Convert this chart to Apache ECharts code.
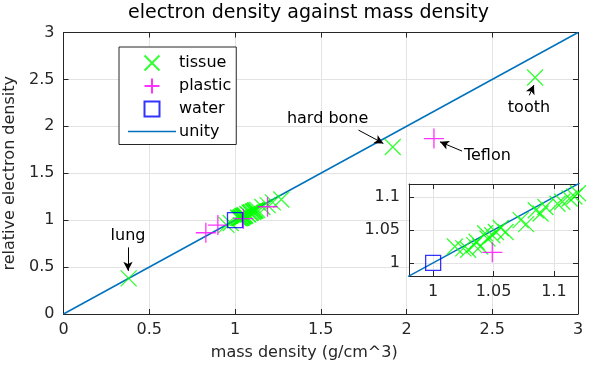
<!DOCTYPE html>
<html>
<head>
<meta charset="utf-8">
<script src="https://cdn.jsdelivr.net/npm/echarts@6/dist/echarts.min.js"></script>
<style>
  html, body { margin: 0; padding: 0; background: #fff; }
  #chart { width: 598px; height: 368px; }
</style>
</head>
<body>
<div id="chart"></div>
<script>
// mass density (g/cm^3) and relative electron density
const tissueDensity = [0.38, 1.92, 2.75, 0.95, 0.975,
  1.018, 1.025, 1.029, 1.034, 1.036, 1.039, 1.043, 1.045, 1.049, 1.052, 1.056, 1.06,
  1.0725, 1.077, 1.085, 1.089, 1.093, 1.103, 1.107, 1.113, 1.117, 1.12,
  1.13, 1.16, 1.19, 1.22, 1.27];
const tissueElectron = [0.38, 1.78, 2.52, 0.95, 0.97,
  1.025, 1.022, 1.020, 1.027, 1.032, 1.025, 1.045, 1.037, 1.042, 1.047, 1.053, 1.047,
  1.065, 1.059, 1.08, 1.075, 1.085, 1.09, 1.093, 1.098, 1.101, 1.106,
  1.11, 1.14, 1.16, 1.19, 1.22];
const plasticDensity = [0.83, 0.90, 1.049, 1.19, 2.16];
const plasticElectron = [0.866, 0.948, 1.016, 1.143, 1.87];
const waterDensity = [1.0];
const waterElectron = [1.0];
const unityLine = [0, 3];

const mainTicks = [0, 0.5, 1, 1.5, 2, 2.5, 3];
const insetTicks = [1, 1.05, 1.1];
const insetRange = [0.98, 1.12];

const notes = [
  { text: 'lung', at: [0.376, 0.83], from: [0.376, 0.71], to: [0.376, 0.46], align: 'center' },
  { text: 'hard bone', at: [1.54, 2.08], from: [1.72, 1.96], to: [1.865, 1.818], align: 'center' },
  { text: 'Teflon', at: [2.335, 1.69], from: [2.324, 1.736], to: [2.195, 1.835], align: 'left' },
  { text: 'tooth', at: [2.714, 2.2], from: [2.716, 2.33], to: [2.743, 2.44], align: 'center' }
];

const pair = (xs, ys) => xs.map((x, i) => [x, ys[i]]);

const CROSS = 'path://M0,0L10,10M10,0L0,10';
const PLUS = 'path://M5,0L5,10M0,5L10,5';
const SQUARE = 'path://M0,0L10,0L10,10L0,10Z';
const BAR = 'path://M0,0L40,0L40,1.4L0,1.4Z';
const INK = '#262626';
const FONT = 'DejaVu Sans';

function axisPair(dir, grid, min, max, ticks, name) {
  const common = {
    type: 'value', gridIndex: grid, min: min, max: max,
    axisLine: { show: true, onZero: false, lineStyle: { color: INK, width: 1 } },
    axisTick: { show: true, inside: true, length: 5, customValues: ticks, lineStyle: { color: INK } }
  };
  const main = Object.assign({}, common, {
    position: dir === 'x' ? 'bottom' : 'left',
    splitLine: { show: true, lineStyle: { color: '#e3e3e3', width: 1 } },
    axisLabel: {
      show: true, customValues: ticks, color: INK, fontFamily: FONT, fontSize: 16, margin: dir === 'x' ? 8 : 9
    }
  });
  if (name) Object.assign(main, name);
  const other = Object.assign({}, common, {
    position: dir === 'x' ? 'top' : 'right',
    splitLine: { show: false },
    axisLabel: { show: false }
  });
  if (grid === 1) { main.z = 6; other.z = 6; }
  return [main, other];
}

const chart = echarts.init(document.getElementById('chart'));

const xAxes = [].concat(
  axisPair('x', 0, 0, 3, mainTicks, {
    name: 'mass density (g/cm^3)', nameLocation: 'middle', nameGap: 31,
    nameTextStyle: { color: INK, fontFamily: FONT, fontSize: 16, padding: [0, 33, 0, 0] }
  }),
  axisPair('x', 1, insetRange[0], insetRange[1], insetTicks)
);
const yAxes = [].concat(
  axisPair('y', 0, 0, 3, mainTicks, {
    name: 'relative electron density', nameLocation: 'middle', nameGap: 41,
    nameTextStyle: { color: INK, fontFamily: FONT, fontSize: 16 }
  }),
  axisPair('y', 1, insetRange[0], insetRange[1], insetTicks)
);

const markerStyle = (c) => ({ color: 'rgba(0,0,0,0)', borderColor: c, borderWidth: 1.3 });

function seriesFor(grid) {
  const ax = grid === 0 ? 0 : 2;
  const z = grid === 0 ? 3 : 8;
  return [
    {
      name: 'unity', type: 'line', xAxisIndex: ax, yAxisIndex: ax, z: z,
      data: pair(unityLine, unityLine), symbol: 'none', showSymbol: false, clip: true,
      lineStyle: { color: '#0072bd', width: 1.5 }, itemStyle: { color: '#0072bd' }
    },
    {
      name: 'tissue', type: 'scatter', xAxisIndex: ax, yAxisIndex: ax, z: z + 1,
      data: pair(tissueDensity, tissueElectron), symbol: CROSS, symbolSize: 16, clip: true,
      itemStyle: markerStyle('#00ff00')
    },
    {
      name: 'plastic', type: 'scatter', xAxisIndex: ax, yAxisIndex: ax, z: z + 1,
      data: pair(plasticDensity, plasticElectron), symbol: PLUS, symbolSize: 20, clip: true,
      itemStyle: markerStyle('#ff00ff')
    },
    {
      name: 'water', type: 'scatter', xAxisIndex: ax, yAxisIndex: ax, z: z + 1,
      data: pair(waterDensity, waterElectron), symbol: SQUARE, symbolSize: 15, clip: true,
      itemStyle: markerStyle('#0000ff')
    }
  ];
}

const series = seriesFor(0).concat(seriesFor(1));

// annotations: arrows and their texts, placed in data units of the main axes
series.push({
  type: 'line', xAxisIndex: 0, yAxisIndex: 0, data: [], z: 4, silent: true,
  markLine: {
    silent: true, animation: false,
    symbol: ['none', 'arrow'], symbolSize: [7, 9],
    label: { show: false },
    lineStyle: { color: '#000', width: 1, type: 'solid' },
    data: notes.map(n => [{ coord: n.from }, { coord: n.to }])
  },
  markPoint: {
    silent: true, animation: false, symbol: 'circle', symbolSize: 0,
    data: notes.map(n => ({
      coord: n.at,
      label: {
        show: true, formatter: n.text, position: 'inside', align: n.align,
        color: '#000', fontFamily: FONT, fontSize: 16
      }
    }))
  }
});

chart.setOption({
  animation: false,
  backgroundColor: '#fff',
  title: {
    text: 'electron density against mass density',
    left: 128, top: 4, padding: 0,
    textStyle: { color: '#000', fontFamily: FONT, fontSize: 19, fontWeight: 'normal' }
  },
  legend: {
    data: ['tissue', 'plastic', 'water', { name: 'unity', icon: BAR }],
    orient: 'vertical', left: 119, top: 47,
    padding: [7.5, 5, 5, 9], itemGap: 6, itemWidth: 48, itemHeight: 15,
    backgroundColor: '#fff', borderColor: INK, borderWidth: 1, borderRadius: 0,
    textStyle: { color: '#000', fontFamily: FONT, fontSize: 16, padding: [0, 0, 0, -2] },
    z: 20
  },
  grid: [
    { left: 63.5, right: 20, top: 32.5, bottom: 54, outerBoundsMode: 'none' },
    { left: 409, width: 169, top: 184, height: 92, show: true, backgroundColor: '#fff', borderWidth: 0, z: 5, outerBoundsMode: 'none' }
  ],
  xAxis: xAxes,
  yAxis: yAxes,
  series: series
});
</script>
</body>
</html>
